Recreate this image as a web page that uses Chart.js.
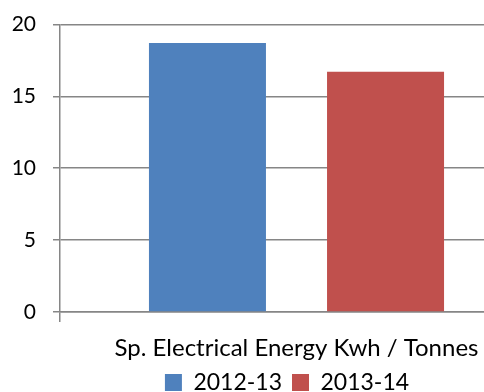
<!DOCTYPE html>
<html>
<head>
  <title>Sp. Electrical Energy</title>
  <style>
    html, body {
      margin: 0;
      padding: 0;
      background: #fff;
      overflow: hidden;
    }
    /* the original is cropped on the right and bottom, so the canvas runs past the window */
    .wrap {
      position: relative;
      width: 533px;
      height: 417px;
    }
  </style>
</head>
<body>
  <div class="wrap">
    <canvas id="energyChart"></canvas>
  </div>

  <script src="https://cdn.jsdelivr.net/npm/chart.js"></script>

  <script>
    const categories = ['Sp. Electrical Energy Kwh / Tonnes'];
    const seriesNames = ['2012-13', '2013-14'];
    const values2012 = [18.7];
    const values2013 = [16.7];
    const yMin = 0, yMax = 20, yStep = 5;

    const fontFamily = 'Lato, "Open Sans", sans-serif';

    // legend sits right of the canvas centre and tight under the axis label in the original
    const shiftLegend = {
      id: 'shiftLegend',
      afterLayout(chart) {
        chart.legend.left += 41;
        chart.legend.top -= 13;
      }
    };

    const ctx = document.getElementById('energyChart').getContext('2d');
    new Chart(ctx, {
      type: 'bar',
      data: {
        labels: categories,
        datasets: [
          { label: seriesNames[0], data: values2012, backgroundColor: '#4F81BD' },
          { label: seriesNames[1], data: values2013, backgroundColor: '#C0504D' }
        ]
      },
      plugins: [shiftLegend],
      options: {
        responsive: true,
        maintainAspectRatio: false,
        animation: false,
        categoryPercentage: 0.753,
        barPercentage: 0.657,
        layout: {
          padding: { left: 0, right: 0, top: 12, bottom: 0 }
        },
        plugins: {
          tooltip: { enabled: false },
          legend: {
            position: 'bottom',
            labels: {
              color: '#000',
              font: { family: fontFamily, size: 23 },
              boxWidth: 17,
              boxHeight: 17,
              padding: 10
            }
          }
        },
        scales: {
          x: {
            offset: true,
            grid: {
              offset: true,
              drawOnChartArea: false,
              color: '#868686',
              tickLength: 10,
              lineWidth: 1.5
            },
            border: { color: '#868686', width: 1.5 },
            ticks: {
              color: '#000',
              padding: 11,
              font: { family: fontFamily, size: 24, lineHeight: 1.25 }
            }
          },
          y: {
            min: yMin,
            max: yMax,
            afterFit: (scale) => {
              scale.width = 60;
            },
            grid: {
              color: '#868686',
              lineWidth: 1.5,
              tickLength: 7
            },
            border: { color: '#868686', width: 1.5 },
            ticks: {
              stepSize: yStep,
              color: '#000',
              padding: 17,
              font: { family: fontFamily, size: 21, lineHeight: 0.7 }
            }
          }
        }
      }
    });
  </script>
</body>
</html>
